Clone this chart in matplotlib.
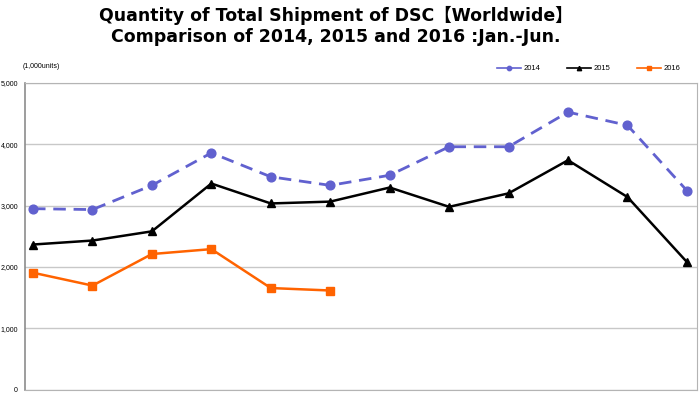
import matplotlib.pyplot as plt
from matplotlib.ticker import FuncFormatter

# monthly shipments, 1,000 units (Jan..Dec)
months = ['Jan', 'Feb', 'Mar', 'Apr', 'May', 'Jun', 'Jul', 'Aug', 'Sep', 'Oct', 'Nov', 'Dec']
ship_2014 = [2950, 2935, 3330, 3860, 3470, 3330, 3495, 3960, 3960, 4525, 4310, 3245]
ship_2015 = [2365, 2430, 2580, 3360, 3035, 3065, 3295, 2980, 3200, 3740, 3140, 2080]
ship_2016 = [1905, 1695, 2210, 2290, 1655, 1615]
y_ticks = [0, 1000, 2000, 3000, 4000, 5000]


def main():
    plt.rcParams['font.family'] = ['DejaVu Sans', 'Noto Sans CJK JP']

    fig = plt.figure(figsize=(7, 3.96), dpi=100)
    ax = fig.add_axes([25 / 700, 6.5 / 396, 672 / 700, 306.5 / 396])

    x = list(range(len(months)))
    ax.plot(x, ship_2014, color='#6161cf', lw=2, dashes=(4.5, 2.8),
            marker='o', markersize=6.3, label='2014')
    ax.plot(x, ship_2015, color='black', lw=1.8, marker='^', markersize=6.3,
            label='2015')
    ax.plot(x[:len(ship_2016)], ship_2016, color='#ff6300', lw=1.8, marker='s',
            markersize=5.5, label='2016')

    ax.set_xlim(-0.135, 11.17)
    ax.set_ylim(0, 5000)
    ax.set_xticks([])
    ax.set_yticks(y_ticks)
    ax.yaxis.set_major_formatter(FuncFormatter(lambda v, p: f'{int(v):,}'))
    ax.tick_params(axis='y', length=0, labelsize=5, pad=5)
    for lbl in ax.get_yticklabels():
        lbl.set_family('Liberation Sans')
    ax.grid(axis='y', color='#c8c8c8', lw=1)
    ax.set_axisbelow(True)
    for side in ['top', 'right', 'bottom']:
        ax.spines[side].set_color('#b4b4b4')
    ax.spines['left'].set_color('#8c8c8c')
    ax.spines['left'].set_linewidth(1.2)

    fig.text(23 / 700, 1 - 67 / 396, '(1,000units)', fontsize=5,
             family='Liberation Sans', ha='left', va='center')

    # 2014 is dashed in the plot but drawn solid in the legend
    leg = ax.legend(loc='lower right', bbox_to_anchor=(0.986, 1.012), ncol=3,
                    frameon=False, handlelength=3.15, columnspacing=3.4,
                    handletextpad=0.4, markerscale=0.5,
                    prop={'family': 'Liberation Sans', 'size': 5.5})
    for h in leg.get_lines():
        h.set_linestyle('-')
        h.set_linewidth(1.2)

    fig.text(336 / 700, 1 - 26 / 396,
             'Quantity of Total Shipment of DSC\u3010Worldwide\u3011\n'
             'Comparison of 2014, 2015 and 2016 :Jan.-Jun.',
             ha='center', va='center', fontsize=12.5, fontweight='bold',
             linespacing=1.2)

    fig.savefig('out.png', dpi=100)


if __name__ == "__main__":
    main()
